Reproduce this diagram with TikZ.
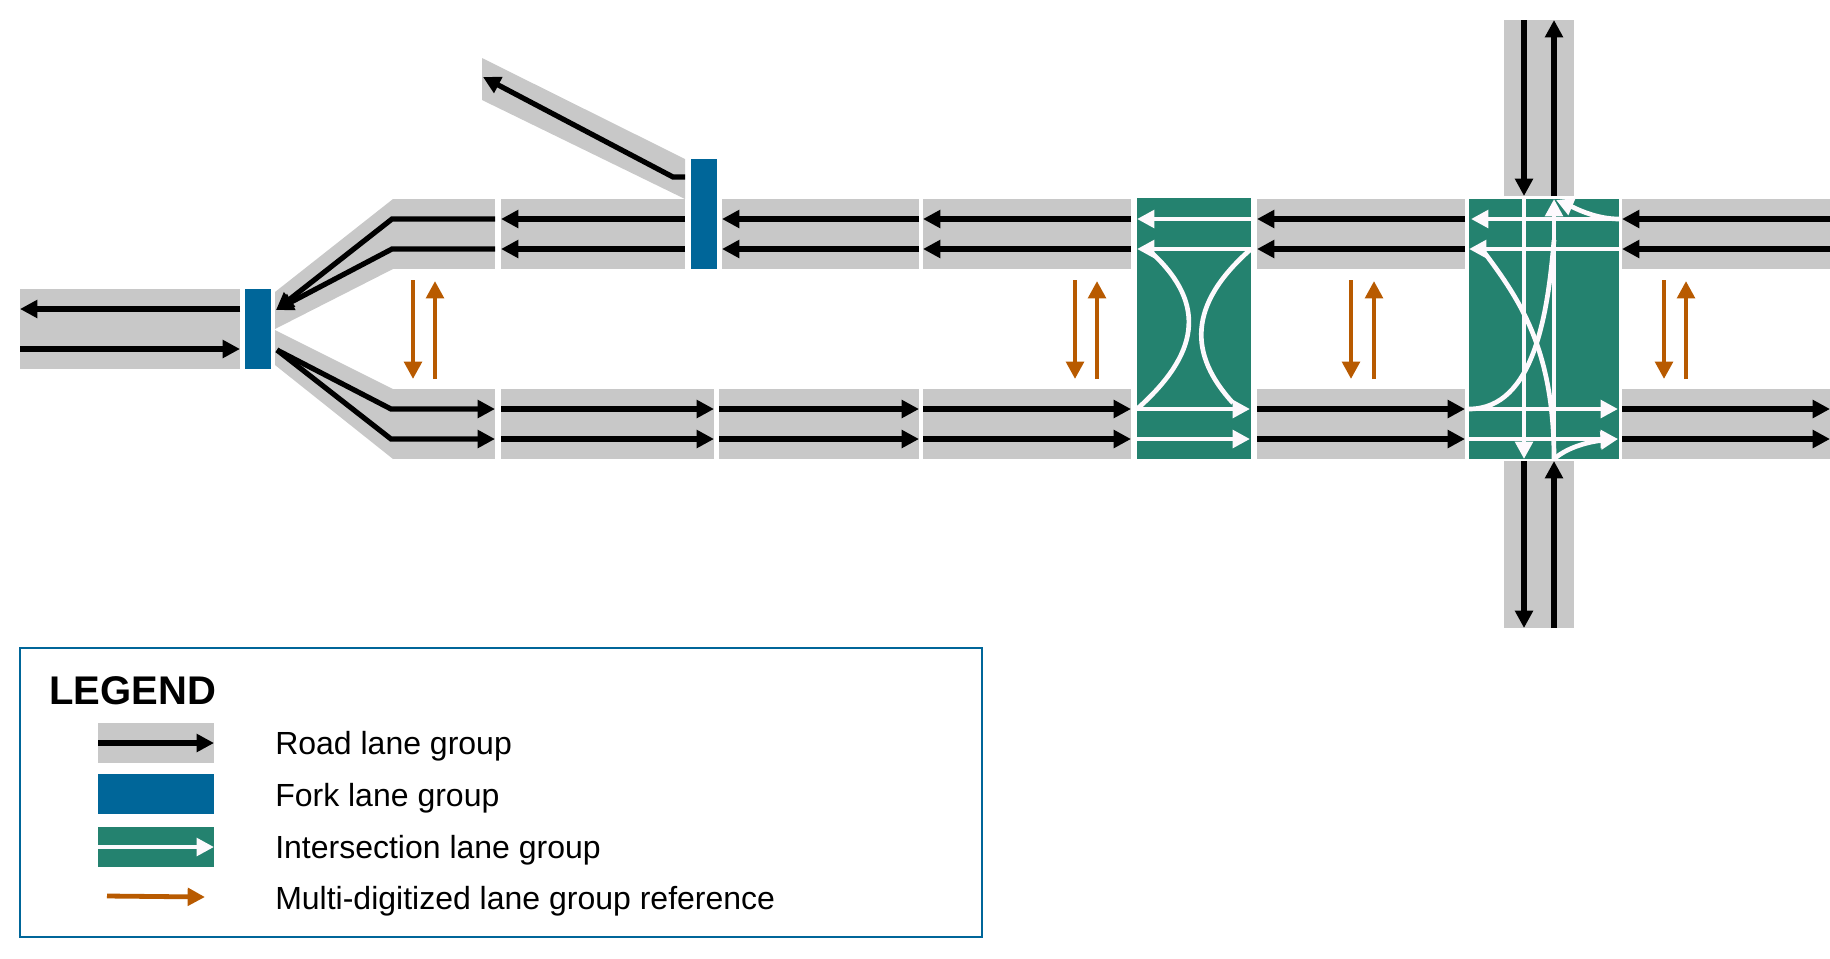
\documentclass[tikz,border=0pt]{standalone}
\usepackage{fontspec}
\setmainfont{Liberation Sans}
\usetikzlibrary{arrows.meta}

\definecolor{roadgray}{HTML}{C8C8C8}
\definecolor{forkblue}{HTML}{006699}
\definecolor{intgreen}{HTML}{24826F}
\definecolor{refbrown}{HTML}{B85A00}
\definecolor{lanewhite}{HTML}{FDF9FD}

\tikzset{
    x=0.75pt, y=-0.75pt,
    box/.style={inner sep=0pt, outer sep=0pt, draw=none},
    road/.style={box, fill=roadgray},
    fork/.style={box, fill=forkblue},
    inter/.style={box, fill=intgreen},
    lane/.style={line width=3.9pt, black, -{Triangle[length=13pt,width=13pt]}},
    turn/.style={line width=3.5pt, lanewhite, -{Triangle[length=13pt,width=13pt]}},
    curveline/.style={line width=3.5pt, lanewhite},
    ref/.style={line width=3.6pt, refbrown, -{Triangle[length=13pt,width=13pt]}},
    legendtext/.style={anchor=west, inner sep=0pt, font=\fontsize{24pt}{28pt}\selectfont},
}
\def\lanegap{11.25pt}

\begin{document}
\begin{tikzpicture}
    \useasboundingbox (0,0) rectangle (1830,958);

    % Road sections, top row (lanes go left) and bottom row (lanes go right)
    \foreach \id/\xa/\xb in {a/393/495, b/501/685, c/722/919, d/923/1131, e/1257/1465, f/1622/1830}{
        \node[road, minimum width={(\xb-\xa)*0.75pt}, minimum height=52.5pt] (top\id) at ({(\xa+\xb)/2},234) {};
    }
    \foreach \id/\xa/\xb in {a/393/495, b/501/714, c/719/919, d/923/1131, e/1257/1465, f/1622/1830}{
        \node[road, minimum width={(\xb-\xa)*0.75pt}, minimum height=52.5pt] (bot\id) at ({(\xa+\xb)/2},424) {};
    }

    % West road
    \node[road, minimum width=165pt, minimum height=60pt] (west) at (130,329) {};

    % Flared parts next to the first fork
    \fill[roadgray] (275,292) -- (393,199) -- (393,269) -- (275,329) -- cycle;
    \fill[roadgray] (275,330) -- (393,389) -- (393,459) -- (275,365) -- cycle;

    % Branch going up to the left
    \fill[roadgray] (482,58) -- (685,159) -- (685,199) -- (482,100) -- cycle;

    % North and south roads
    \node[road, minimum width=52.5pt, minimum height=132pt] (north) at (1539,108) {};
    \node[road, minimum width=52.5pt, minimum height=125.25pt] (south) at (1539,544.5) {};

    % Forks
    \node[fork, minimum width=19.5pt, minimum height=60pt] (forka) at (258,329) {};
    \node[fork, minimum width=19.5pt, minimum height=82.5pt] (forkb) at (704,214) {};

    % Intersections
    \node[inter, minimum width=85.5pt, minimum height=195.75pt] (intera) at (1194,328.5) {};
    \node[inter, minimum width=112.5pt, minimum height=195pt] (interb) at (1544,329) {};

    % Lanes of the straight sections
    \foreach \id in {b,c,d,e,f}{
        \draw[lane] ([yshift=\lanegap]top\id.east) -- ([yshift=\lanegap]top\id.west);
        \draw[lane] ([yshift=-\lanegap]top\id.east) -- ([yshift=-\lanegap]top\id.west);
        \draw[lane] ([yshift=\lanegap]bot\id.west) -- ([yshift=\lanegap]bot\id.east);
        \draw[lane] ([yshift=-\lanegap]bot\id.west) -- ([yshift=-\lanegap]bot\id.east);
    }

    % West road lanes
    \draw[lane] ([yshift=15pt]west.east) -- ([yshift=15pt]west.west);
    \draw[lane] ([yshift=-15pt]west.west) -- ([yshift=-15pt]west.east);

    % Lanes through the flared parts
    \coordinate (forktip) at (276,310);
    \coordinate (forkout) at (277,350);
    \draw[lane] ([yshift=\lanegap]topa.east) -- (392,219) -- (forktip);
    \draw[lane] ([yshift=-\lanegap]topa.east) -- (392,249) -- (forktip);
    \draw[lane] (forkout) -- (391,409) -- ([yshift=\lanegap]bota.east);
    \draw[lane] (forkout) -- (391,439) -- ([yshift=-\lanegap]bota.east);

    % Branch lane
    \coordinate (branchend) at (483,77);
    \coordinate (branchstart) at (685,177);
    \draw[lane] (branchstart) -- (673,177) -- (branchend);

    % North and south lanes
    \draw[lane] ([xshift=-11.25pt]north.north) -- ([xshift=-11.25pt]north.south);
    \draw[lane] ([xshift=11.25pt]north.south) -- ([xshift=11.25pt]north.north);
    \draw[lane] ([xshift=-11.25pt]south.north) -- ([xshift=-11.25pt]south.south);
    \draw[lane] ([xshift=11.25pt]south.south) -- ([xshift=11.25pt]south.north);

    % First intersection
    \coordinate (ianw) at (1137,249);
    \coordinate (iane) at (1251,249);
    \coordinate (iasw) at (1137,409);
    \coordinate (iase) at (1250,409);
    \draw[turn] (1251,219) -- (1137,219);
    \draw[turn] (iane) -- (ianw);
    \draw[turn] (iasw) -- (iase);
    \draw[turn] (1137,439) -- (1250,439);
    \draw[curveline] (iasw) .. controls (1198,355) and (1208,305) .. (1152,253);
    \draw[curveline] (iane) .. controls (1187,305) and (1189,355) .. (1233,403);

    % Second intersection
    \coordinate (ibne) at (1619,219);
    \coordinate (ibnw) at (1469,249);
    \coordinate (ibsw) at (1469,409);
    \coordinate (ibn) at (1554,199);
    \coordinate (ibs) at (1554,459);
    \coordinate (ibse) at (1618,439);
    \draw[turn] (ibne) -- (1471,219);
    \draw[turn] (1619,249) -- (ibnw);
    \draw[turn] (ibsw) -- (1618,409);
    \draw[turn] (1469,439) -- (ibse);
    \draw[turn] (1524,199) -- (1524,459);
    \draw[turn] (ibs) -- (ibn);
    \draw[turn] (ibne) .. controls (1595,219) and (1575,208) .. (1556,200);
    \draw[turn] (ibs) .. controls (1570,445) and (1595,441) .. (ibse);
    \draw[curveline] (ibsw) .. controls (1535,409) and (1548,310) .. (1554,240);
    \draw[curveline] (ibs) .. controls (1554,350) and (1520,300) .. (1484,252);

    % References between the opposite directions
    \foreach \i/\xd/\xu in {1/413/435, 2/1075/1097, 3/1351/1374, 4/1664/1686}{
        \coordinate (reftop\i) at (\xd,280);
        \coordinate (refbot\i) at (\xd,379);
        \draw[ref] (reftop\i) -- (refbot\i);
        \coordinate (uptop\i) at (\xu,281);
        \coordinate (upbot\i) at (\xu,379);
        \draw[ref] (upbot\i) -- (uptop\i);
    }

    % Legend
    \node[box, draw=forkblue, line width=2.2pt, minimum width=721.5pt, minimum height=216.75pt] (legend) at (501,792.5) {};
    \node[anchor=west, inner sep=0pt, font=\fontsize{30pt}{34pt}\selectfont\bfseries] (legendtitle) at (49,691) {LEGEND};

    \node[road, minimum width=87pt, minimum height=30pt] (keyroad) at (156,743) {};
    \draw[lane] (keyroad.west) -- (keyroad.east);
    \node[fork, minimum width=87pt, minimum height=30pt] (keyfork) at (156,793.5) {};
    \node[inter, minimum width=87pt, minimum height=30pt] (keyinter) at (156,847) {};
    \draw[turn] (keyinter.west) -- (keyinter.east);
    \coordinate (keyrefa) at (107,896);
    \coordinate (keyrefb) at (205,897);
    \draw[ref] (keyrefa) -- (keyrefb);

    \node[legendtext] (textroad) at (275,746) {Road lane group};
    \node[legendtext] (textfork) at (275,798) {Fork lane group};
    \node[legendtext] (textinter) at (275,850) {Intersection lane group};
    \node[legendtext] (textref) at (275,901) {Multi-digitized lane group reference};
\end{tikzpicture}
\end{document}
